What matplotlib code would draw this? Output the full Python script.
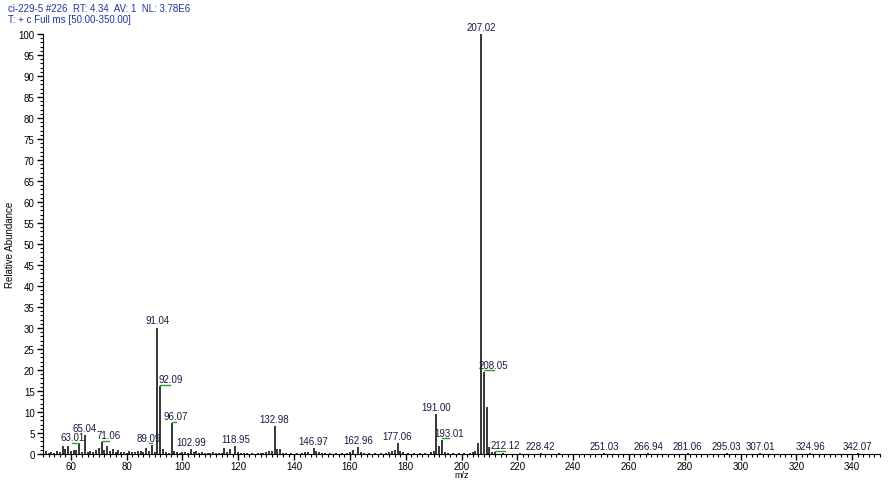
import matplotlib
matplotlib.use("Agg")
import matplotlib.pyplot as plt
from matplotlib.ticker import MultipleLocator

plt.rcParams['font.family'] = ['Liberation Sans', 'DejaVu Sans']

# peak list: m/z and relative abundance (%)
mz = [51, 52, 53, 54, 55, 56, 57, 58, 59, 60, 61, 62, 63.01, 64, 65.04, 66, 67, 68, 69, 70,
      71.06, 72, 73, 74, 75, 76, 77, 78, 79, 80, 81, 82, 83, 84, 85, 86, 87, 88, 89.09, 90,
      91.04, 92.09, 93, 94, 95, 96.07, 97, 98, 99, 100, 101, 102, 102.99, 104, 105, 106, 107,
      108, 109, 110, 111, 112, 113, 114, 115, 116, 117, 118.95, 120, 121, 122, 123, 125, 127,
      128, 129, 130, 131, 132, 132.98, 134, 135, 136, 137, 139, 141, 143, 144, 145, 146.97,
      148, 149, 150, 151, 153, 155, 157, 159, 160, 161, 162.96, 164, 165, 167, 169, 171, 173,
      174, 175, 176, 177.06, 178, 179, 181, 183, 185, 187, 189, 190, 191.00, 192, 193.01, 194,
      195, 197, 199, 201, 203, 204, 205, 206, 207.02, 208.05, 209, 210, 211, 212.12, 215, 221,
      228.42, 235, 251.03, 266.94, 281.06, 295.03, 307.01, 324.96, 342.07]
abund = [0.6, 0.3, 0.4, 0.3, 0.8, 0.5, 1.9, 1.3, 2.0, 0.6, 0.9, 1.0, 2.3, 0.5, 4.4, 0.4, 0.7, 0.5, 1.0, 1.5,
         2.8, 1.0, 1.9, 0.6, 1.2, 0.5, 0.9, 0.4, 0.5, 0.3, 0.6, 0.4, 0.5, 0.6, 0.7, 0.4, 1.4, 0.8, 2.2, 0.5,
         30.1, 16.1, 1.2, 0.4, 0.3, 7.4, 0.8, 0.4, 0.3, 0.4, 0.5, 0.3, 1.2, 0.4, 0.6, 0.3, 0.4,
         0.3, 0.2, 0.3, 0.4, 0.3, 0.2, 0.3, 1.5, 0.4, 1.2, 1.9, 0.4, 0.3, 0.2, 0.3, 0.2, 0.3,
         0.2, 0.3, 0.4, 0.6, 0.8, 6.7, 1.3, 1.2, 0.3, 0.2, 0.3, 0.2, 0.3, 0.4, 0.5, 1.5,
         0.6, 0.4, 0.3, 0.2, 0.3, 0.2, 0.3, 0.2, 0.5, 0.9, 1.6, 0.5, 0.3, 0.2, 0.3, 0.2, 0.3,
         0.5, 0.7, 0.9, 2.6, 0.6, 0.4, 0.3, 0.2, 0.3, 0.2, 0.4, 0.7, 9.6, 2.0, 3.4, 0.5,
         0.3, 0.2, 0.3, 0.2, 0.3, 0.4, 0.8, 2.6, 100.0, 19.6, 11.2, 1.6, 0.4, 0.4, 0.2, 0.2,
         0.3, 0.2, 0.3, 0.3, 0.3, 0.3, 0.3, 0.3, 0.3]

# labelled peaks and horizontal label shift (m/z units)
label_mz = [63.01, 65.04, 71.06, 89.09, 91.04, 92.09, 96.07, 102.99, 118.95, 132.98, 146.97,
            162.96, 177.06, 191.00, 193.01, 207.02, 208.05, 212.12, 228.42, 251.03, 266.94,
            281.06, 295.03, 307.01, 324.96, 342.07]
label_dx = [-2.5, 0, 2.5, -1.0, 0, 3.5, 1.5, 0, 0, 0, 0,
            0, 0, 0, 2.5, 0, 3.5, 3.5, 0, 0, 0,
            0, 0, 0, 0, 0]

fig = plt.figure(figsize=(8.9, 4.81), dpi=100)
ax = fig.add_axes([0.0483, 0.0541, 0.9405, 0.8731])

ax.vlines(mz, 0, abund, color='black', lw=1.1)

for m, dx in zip(label_mz, label_dx):
    h = abund[mz.index(m)]
    ax.text(m + dx, h + 0.5, f"{m:.2f}", ha='center', va='bottom', fontsize=7,
            color='#1a1a40', clip_on=False)
    if dx != 0:
        x0, x1 = (m, m + dx) if dx > 0 else (m + dx, m)
        ax.plot([x0, x1], [h + 0.3, h + 0.3], color='#2ca02c', lw=1.0)

ax.set_xlim(50, 350)
ax.set_ylim(0, 100)
ax.spines['top'].set_visible(False)
ax.spines['right'].set_visible(False)
ax.xaxis.set_major_locator(MultipleLocator(20))
ax.xaxis.set_minor_locator(MultipleLocator(2))
ax.yaxis.set_major_locator(MultipleLocator(5))
ax.yaxis.set_minor_locator(MultipleLocator(1))
ax.tick_params(which='major', length=4, width=1, labelsize=7, pad=2)
ax.tick_params(axis='x', which='major', pad=1)
ax.tick_params(which='minor', length=2, width=0.8)
ax.set_ylabel("Relative Abundance", fontsize=7)
ax.yaxis.set_label_coords(-0.0335, 0.5)
ax.set_xlabel("m/z", fontsize=6.5)
ax.xaxis.set_label_coords(0.5, -0.037)

fig.text(0.009, 0.992, "ci-229-5 #226  RT: 4.34  AV: 1  NL: 3.78E6", fontsize=7,
         color='#24369a', va='top')
fig.text(0.009, 0.969, "T: + c Full ms [50.00-350.00]", fontsize=7,
         color='#24369a', va='top')

fig.savefig("out.png", dpi=100)
